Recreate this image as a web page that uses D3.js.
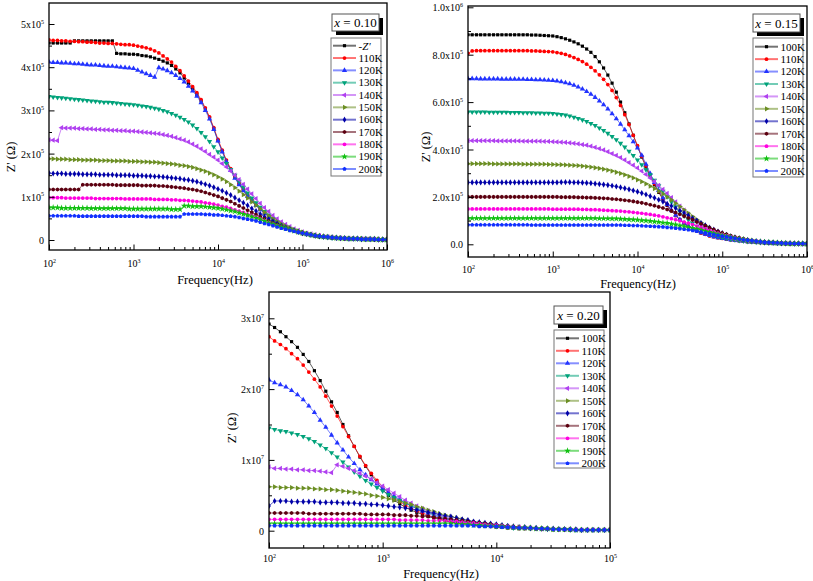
<!DOCTYPE html>
<html><head><meta charset="utf-8">
<script src="https://cdn.jsdelivr.net/npm/d3@7/dist/d3.min.js"></script>
<style>
body{margin:0;background:#fff}
svg{display:block}
text{font-family:"Liberation Serif","Times New Roman","DejaVu Serif",serif;fill:#000}
</style>
</head><body>
<svg id="c" width="813" height="581" font-family="Liberation Serif, Times New Roman, DejaVu Serif, serif"></svg>
<script>
// ---------- DATA ----------
const freqs=[100,112,126,141,158,178,200,224,251,282,316,355,398,447,501,562,631,708,794,891,
1000,1122,1259,1413,1585,1778,1995,2239,2512,2818,3162,3548,3981,4467,5012,5623,6310,7079,7943,8913,
10000,11220,12589,14125,15849,17783,19953,22387,25119,28184,31623,35481,39811,44668,50119,56234,63096,70795,79433,89125,
100000,112202,125893,141254,158489,177828,199526,223872,251189,281838,316228,354813,398107,446684,501187,562341,630957,707946,794328,891251,1000000];

const tempNames=["100K","110K","120K","130K","140K","150K","160K","170K","180K","190K","200K"];
const legendNames010=["-Z'","110K","120K","130K","140K","150K","160K","170K","180K","190K","200K"];
const colors=["#000000","#ff0000","#2233ff","#00a27a","#b040f0","#6b8e23","#0000a8","#5c0010","#ff00e0","#10c010","#1030ff"];

// x = 0.10, Z' in units of 1e3 ohm
const z010=[
[456,456,456,456,456,456,461,461,461,461,461,461,461,461,461,461,432,431,431,430,
 430,429,427,426,424,421,418,414,410,404,396,387,375,363,350,337,322,304,283,258,
 230,206,183,163,145,129,115,102,91,80,71,62,54,47,41,35,30,26,22,18,
 15,13,11,9,8,7,6,5,4,4,3,3,3,2,2,2,2,1,1,1,1],
[463,462,462,461,461,460,460,459,459,458,458,457,456,456,455,455,454,453,452,452,
 451,449,447,445,442,438,433,426,419,412,402,392,380,368,355,341,325,306,285,260,
 233,208,185,165,147,131,117,104,93,82,72,63,55,48,42,36,31,26,22,18,
 15,13,11,9,8,7,6,5,4,4,3,3,3,2,2,2,2,1,1,1,1],
[412,411,411,410,410,409,408,408,407,406,405,405,404,403,402,402,401,400,399,398,
 397,393,389,385,381,377,399,396,392,387,381,374,366,356,345,333,318,300,280,256,
 229,204,181,161,143,128,114,101,90,80,70,62,54,47,41,35,30,26,22,19,
 16,13,11,10,8,7,6,5,5,4,4,3,3,3,2,2,2,2,1,1,1],
[332,331,330,329,328,327,326,325,324,323,322,321,320,319,319,318,317,316,315,314,
 313,312,310,309,307,305,303,300,297,293,289,284,279,273,266,258,249,239,228,216,
 204,190,177,163,150,136,122,109,97,86,76,66,58,50,43,37,32,27,23,19,
 16,14,12,10,8,7,6,5,5,4,4,3,3,3,2,2,2,2,1,1,1],
[232,231,230,260,259,259,259,258,258,257,257,256,256,255,255,254,254,253,253,252,
 252,251,250,249,248,247,246,244,242,240,237,234,231,227,222,217,211,205,198,192,
 185,177,169,160,150,140,129,118,107,96,85,75,66,57,49,42,36,31,26,22,
 19,16,14,12,10,8,7,6,5,5,4,4,3,3,3,2,2,2,2,1,1],
[188,188,187,187,187,186,186,186,185,185,185,185,184,184,184,183,183,183,183,182,
 182,182,181,181,180,180,179,178,177,176,175,173,172,170,168,165,162,159,155,151,
 146,141,135,128,121,113,105,97,88,80,72,64,56,49,43,37,32,28,24,21,
 18,15,13,11,9,8,7,6,5,5,4,4,3,3,3,2,2,2,2,1,1],
[155,154,154,154,153,153,153,153,152,152,152,152,151,151,151,151,150,150,150,150,
 149,149,149,148,148,147,147,146,145,144,143,142,140,139,137,135,132,129,126,122,
 118,114,109,104,98,92,86,80,73,67,60,54,48,43,38,33,29,25,22,19,
 16,14,12,10,9,8,7,6,5,4,4,3,3,3,2,2,2,2,1,1,1],
[117,117,117,117,117,117,117,117,128,128,128,128,128,128,128,128,127,127,127,127,
 127,127,126,126,126,126,125,125,124,123,122,121,120,118,117,115,113,110,107,104,
 101,97,93,89,84,79,74,69,64,59,54,49,44,39,35,31,27,24,21,18,
 16,14,12,10,9,8,7,6,5,4,4,3,3,3,2,2,2,2,1,1,1],
[98,98,98,98,97,97,97,97,97,97,97,96,96,96,96,96,96,96,95,95,
 95,95,95,95,95,94,94,94,94,93,93,92,92,91,90,89,88,86,85,83,
 81,78,76,73,70,67,64,60,57,53,49,45,41,37,33,30,27,24,21,18,
 16,14,12,10,9,8,7,6,5,4,4,3,3,3,2,2,2,2,1,1,1],
[75,75,75,74,74,74,74,74,74,74,73,73,73,73,73,73,73,73,73,72,
 72,72,72,72,72,72,72,72,72,71,71,71,79,79,78,78,78,77,76,75,
 74,72,70,68,66,63,60,57,54,51,47,44,40,37,33,30,27,24,21,18,
 16,14,12,10,9,8,7,6,5,4,4,3,3,3,2,2,2,2,1,1,1],
[56,56,56,56,56,56,56,55,55,55,55,55,55,55,55,55,55,55,55,55,
 55,55,55,54,54,54,54,54,54,54,54,54,60,60,60,60,60,59,59,58,
 58,57,56,55,54,52,50,48,46,44,41,38,36,33,30,27,25,22,20,18,
 16,14,12,10,9,8,7,6,5,4,4,3,3,3,2,2,2,2,1,1,1]
];

// x = 0.15, Z' in units of 1e3 ohm
const z015=[
[884,884,884,884,884,884,884,884,884,884,884,884,884,884,884,883,883,882,881,880,
 879,876,872,867,861,854,846,836,824,810,792,770,744,714,680,642,600,555,508,460,
 413,368,326,287,251,219,190,164,141,121,104,89,76,65,56,48,42,36,32,28,
 25,22,19,17,15,13,11,10,9,8,7,6,5,5,4,4,3,3,3,2,2],
[806,816,817,817,817,817,817,817,817,817,817,817,817,817,817,816,816,815,814,813,
 812,809,806,801,795,788,780,771,760,747,732,715,696,674,649,619,586,547,505,460,
 416,372,331,292,256,223,193,167,143,122,104,89,76,65,56,48,42,36,32,28,
 25,22,19,17,15,13,11,10,9,8,7,6,5,5,4,4,3,3,3,2,2],
[699,699,699,698,698,698,698,698,697,697,697,697,696,696,695,695,694,694,693,692,
 691,689,686,682,677,671,664,655,645,633,620,605,589,571,551,530,507,483,458,433,
 406,376,338,299,261,227,196,168,144,123,105,90,77,66,57,49,42,37,32,28,
 25,22,19,17,15,13,11,10,9,8,7,6,5,5,4,4,3,3,3,2,2],
[558,558,558,558,558,557,557,557,557,557,556,556,556,555,555,555,554,554,553,553,
 552,550,548,545,541,536,531,525,518,510,501,491,480,468,455,441,426,410,393,375,
 356,336,315,293,270,247,224,201,179,158,138,120,104,89,76,65,56,48,41,35,
 30,26,22,19,16,14,12,11,9,8,7,6,6,5,4,4,3,3,3,2,2],
[437,437,437,437,437,437,437,436,436,436,436,436,436,435,435,435,435,435,434,434,
 433,432,431,430,428,426,424,421,418,414,409,404,398,391,383,375,366,356,345,334,
 322,309,295,280,265,249,232,215,197,179,161,144,127,111,97,84,72,62,53,45,
 38,32,27,23,20,17,14,12,10,9,8,7,6,5,4,4,3,3,3,2,2],
[340,340,340,340,340,340,339,339,339,339,339,339,339,338,338,338,338,338,338,337,
 337,336,336,335,334,333,332,330,328,326,323,320,317,313,309,304,299,293,287,280,
 272,264,255,245,235,224,212,200,187,173,159,145,131,117,104,91,79,68,58,49,
 42,35,30,25,21,18,15,13,11,9,8,7,6,5,4,4,3,3,3,2,2],
[261,261,261,261,261,261,261,261,261,261,261,261,261,261,261,261,261,261,261,261,
 261,261,262,262,262,261,261,260,259,258,256,254,252,250,247,244,240,236,232,227,
 222,216,210,203,196,188,180,171,162,152,142,132,121,110,100,90,80,71,62,54,
 47,40,34,29,25,21,18,15,13,11,9,8,7,6,5,4,4,3,3,3,2],
[200,200,200,200,200,200,200,200,200,200,200,200,200,200,200,200,200,200,200,200,
 200,200,199,199,199,199,198,198,197,197,196,195,194,193,191,190,188,186,184,181,
 178,175,171,167,163,158,153,147,141,134,127,119,111,103,94,86,78,70,62,55,
 48,42,36,31,27,23,19,16,14,12,10,8,7,6,5,4,4,3,3,3,2],
[149,149,149,149,149,149,149,149,149,149,149,149,149,149,149,149,149,149,149,149,
 148,148,148,148,148,148,148,147,147,146,146,145,144,143,142,141,140,138,137,135,
 133,131,128,126,123,120,116,112,108,104,99,94,89,83,77,71,65,59,53,47,
 42,37,32,28,24,21,18,15,13,11,9,8,7,6,5,4,4,3,3,3,2],
[110,110,110,110,110,110,110,110,110,110,110,110,110,110,110,110,110,110,110,110,
 110,110,110,110,110,110,110,110,110,110,110,109,109,109,108,108,107,106,105,104,
 103,101,100,98,96,94,91,89,86,83,79,76,72,68,64,60,55,51,46,42,
 38,34,30,26,23,20,17,15,13,11,9,8,7,6,5,4,4,3,3,3,2],
[82,82,82,82,82,82,82,82,82,82,82,82,82,82,82,81,81,81,81,81,
 81,81,81,81,81,81,81,81,81,81,81,81,81,81,81,81,81,80,80,79,
 79,78,77,76,75,74,73,71,70,68,66,63,61,58,55,52,48,45,41,38,
 34,31,28,25,22,19,17,15,13,11,9,8,7,6,5,4,4,3,3,3,2]
];

// x = 0.20, Z' in units of 1e5 ohm (100 Hz .. 100 kHz)
const z020=[
[292,287,281,274,267,259,249,239,226,212,197,182,167,150,134,119,104,91,79,68,
 58,50,43,38,33,29,26,23,20,18,16,14,12,11,10,9,8,7,6,6,
 5,5,4,4,3,3,3,3,2,2,2,2,2,1,1,1,1,1,1,1,1],
[274,268,263,257,250,243,234,224,214,203,190,176,162,147,133,119,105,92,81,71,
 62,54,47,41,36,32,28,25,22,19,17,15,13,12,10,9,8,7,7,6,
 5,5,4,4,3,3,3,3,2,2,2,2,2,1,1,1,1,1,1,1,1],
[213,209,206,203,198,192,185,176,167,156,146,135,124,114,104,95,86,79,72,66,
 60,54,49,44,39,35,31,28,25,22,19,17,15,13,12,10,9,8,7,7,
 6,5,5,4,4,3,3,3,2,2,2,2,2,1,1,1,1,1,1,1,1],
[145,143,141,140,138,136,133,130,126,121,116,110,104,97,90,83,77,71,66,61,
 56,51,47,43,39,35,32,29,26,23,21,18,16,14,13,11,10,9,8,7,
 6,6,5,4,4,4,3,3,3,2,2,2,2,1,1,1,1,1,1,1,1],
[90,88,88,87,87,86,86,85,85,84,83,82,93,91,88,85,81,77,73,68,
 63,58,53,48,43,39,35,31,28,25,22,20,17,15,14,12,11,10,9,8,
 7,6,6,5,5,4,4,3,3,3,2,2,2,2,1,1,1,1,1,1,1],
[62,62,61,61,61,60,60,60,59,59,58,58,57,56,55,54,53,52,50,49,
 47,45,43,41,39,37,34,32,29,27,24,22,20,18,16,14,12,11,10,9,
 8,7,6,5,5,4,4,3,3,3,2,2,2,2,1,1,1,1,1,1,1],
[35,42,42,42,41,41,41,41,41,40,40,40,40,39,39,39,38,38,37,37,
 36,35,34,33,32,31,29,28,26,25,23,21,20,18,16,15,13,12,11,10,
 9,8,7,6,5,5,4,4,3,3,3,2,2,2,2,1,1,1,1,1,1],
[25,25,25,25,25,25,25,24,24,24,24,24,24,24,24,24,24,23,23,23,
 23,23,22,22,22,21,21,20,20,19,18,17,16,15,14,13,12,11,10,9,
 8,7,6,6,5,4,4,3,3,3,2,2,2,2,1,1,1,1,1,1,1],
[16,16,16,16,16,16,16,16,16,16,16,16,16,16,16,16,16,16,16,16,
 16,16,16,15,15,15,15,15,14,14,14,14,13,13,12,11,11,10,9,8,
 8,7,6,5,5,4,4,3,3,3,2,2,2,2,1,1,1,1,1,1,1],
[10,10,10,10,10,10,10,10,10,10,10,10,10,10,10,10,10,10,10,10,
 10,10,10,10,10,10,10,10,10,10,10,10,10,9,9,9,8,8,7,7,
 6,6,5,5,4,4,4,3,3,3,2,2,2,2,1,1,1,1,1,1,1],
[7,7,7,7,7,7,7,7,7,7,7,7,7,7,7,7,7,7,7,7,
 7,7,7,7,7,7,7,7,7,7,7,7,7,7,7,7,7,6,6,6,
 6,5,5,5,4,4,4,3,3,3,2,2,2,2,1,1,1,1,1,1,1]
];

const xTicks6=[1e2,1e3,1e4,1e5,1e6];
const xTicks5=[1e2,1e3,1e4,1e5];
const xExp6=["2","3","4","5","6"];
const xExp5=["2","3","4","5"];
const yTicks010=[0,100,200,300,400,500];
const yLab010=[["0",""],["1x10","5"],["2x10","5"],["3x10","5"],["4x10","5"],["5x10","5"]];
const yTicks015=[0,200,400,600,800,1000];
const yLab015=[["0.0",""],["2.0x10","5"],["4.0x10","5"],["6.0x10","5"],["8.0x10","5"],["1.0x10","6"]];
const yTicks020=[0,100,200,300];
const yLab020=[["0",""],["1x10","7"],["2x10","7"],["3x10","7"]];

// ---------- DRAW ----------
const svg=d3.select("#c");
const FONT="Liberation Serif, Times New Roman, DejaVu Serif, serif";
const symHex={draw(ctx,size){const r=Math.sqrt(size/2.598);for(let i=0;i<6;i++){const a=Math.PI/3*i+Math.PI/6;const px=r*Math.cos(a),py=r*Math.sin(a);if(i)ctx.lineTo(px,py);else ctx.moveTo(px,py);}ctx.closePath();}};
const symPent={draw(ctx,size){const r=Math.sqrt(size/2.378);for(let i=0;i<5;i++){const a=-Math.PI/2+2*Math.PI/5*i;const px=r*Math.cos(a),py=r*Math.sin(a);if(i)ctx.lineTo(px,py);else ctx.moveTo(px,py);}ctx.closePath();}};
const markers=[[d3.symbolSquare,10,0],[d3.symbolCircle,11,0],[d3.symbolTriangle,12,0],[d3.symbolTriangle,12,180],
 [d3.symbolTriangle,12,-90],[d3.symbolTriangle,12,90],[d3.symbolDiamond,11,0],[symHex,11,0],[d3.symbolCircle,11,0],
 [d3.symbolStar,14,0],[symPent,11,0]];

const panels=[
 {id:"a",data:z010,n:81,xMax:1e6,left:49,right:387,top:3,bottom:250,yDom:[0,500],yRange:[240,24],
  xTicks:xTicks6,xExp:xExp6,yTicks:yTicks010,yLab:yLab010,yMinorStep:50,
  xLabY:267,xTitle:[215,284],yTitle:[15,157],tag:"0.10",names:legendNames010,
  box:[332,14,47,17],leg:[331,38,50,138],legY0:45.7,legDy:12.33,lx:[333,356],tx:358.5},
 {id:"b",data:z015,n:81,xMax:1e6,left:468,right:807,top:6,bottom:257,yDom:[0,1000],yRange:[244.3,7.3],
  xTicks:xTicks6,xExp:xExp6,yTicks:yTicks015,yLab:yLab015,yMinorStep:100,
  xLabY:273,xTitle:[638,288],yTitle:[430,147],tag:"0.15",names:tempNames,
  box:[753,14,47,18],leg:[753,38,50,139],legY0:46.7,legDy:12.43,lx:[755,778],tx:780.5},
 {id:"c",data:z020,n:61,xMax:1e5,left:269,right:610,top:292,bottom:548,yDom:[0,300],yRange:[530.7,318.3],
  xTicks:xTicks5,xExp:xExp5,yTicks:yTicks020,yLab:yLab020,yMinorStep:50,
  xLabY:562,xTitle:[441,578],yTitle:[236,428],tag:"0.20",names:tempNames,
  box:[554,306,49,18],leg:[554,330,50,138],legY0:338.3,legDy:12.5,lx:[556,579],tx:581.5}
];

function drawPanel(P){
  const g=svg.append("g").attr("font-family",FONT);
  const x=d3.scaleLog().domain([100,P.xMax]).range([P.left,P.right]);
  const y=d3.scaleLinear().domain(P.yDom).range(P.yRange);
  const cid="clip"+P.id;
  svg.append("defs").append("clipPath").attr("id",cid).append("rect")
    .attr("x",P.left).attr("y",P.top).attr("width",P.right-P.left).attr("height",P.bottom-P.top);
  const plot=g.append("g").attr("clip-path",`url(#${cid})`);
  const line=d3.line().x((v,k)=>x(freqs[k])).y(v=>y(v));
  P.data.forEach((s,i)=>{
    plot.append("path").attr("d",line(s)).attr("fill","none").attr("stroke",colors[i])
      .attr("stroke-width",0.9).attr("stroke-opacity",0.7);
    const [t,sz,rot]=markers[i];
    const sym=d3.symbol().type(t).size(sz)();
    plot.append("g").selectAll("path").data(s).join("path").attr("d",sym)
      .attr("transform",(v,k)=>`translate(${x(freqs[k])},${y(v)}) rotate(${rot})`)
      .attr("fill",colors[i]);
  });
  // x axis (ticks inward)
  const minor=[];
  const maxE=Math.round(Math.log10(P.xMax));
  for(let e=2;e<maxE;e++)for(let m=2;m<=9;m++)minor.push(m*Math.pow(10,e));
  const gx=g.append("g").attr("transform",`translate(0,${P.bottom})`);
  gx.call(d3.axisBottom(x).tickValues(minor).tickSize(-3).tickFormat(""));
  const gx2=g.append("g").attr("transform",`translate(0,${P.bottom})`);
  gx2.call(d3.axisBottom(x).tickValues(P.xTicks).tickSize(-5.5).tickFormat(""));
  [gx,gx2].forEach(a=>{a.attr("font-family",FONT);a.select(".domain").remove();a.selectAll("line").attr("stroke","#000").attr("stroke-width",1);});
  gx2.selectAll(".tick text").each(function(d,i){
    const t=d3.select(this).attr("y",P.xLabY-P.bottom).attr("dy",null).attr("font-size",10)
      .attr("fill","#000").attr("text-anchor","middle");
    t.text(null);
    t.append("tspan").text("10");
    t.append("tspan").attr("dy",-4.5).attr("font-size",6).text(P.xExp[i]);
  });
  // y axis
  const yMin=[];
  for(let v=P.yMinorStep;v<P.yDom[1];v+=2*P.yMinorStep)yMin.push(v);
  const gy=g.append("g").attr("transform",`translate(${P.left},0)`);
  gy.call(d3.axisLeft(y).tickValues(yMin).tickSize(-3).tickFormat(""));
  const gy2=g.append("g").attr("transform",`translate(${P.left},0)`);
  gy2.call(d3.axisLeft(y).tickValues(P.yTicks).tickSize(-5.5).tickFormat(""));
  [gy,gy2].forEach(a=>{a.attr("font-family",FONT);a.select(".domain").remove();a.selectAll("line").attr("stroke","#000").attr("stroke-width",1);});
  gy2.selectAll(".tick text").each(function(d,i){
    const t=d3.select(this).attr("x",-5).attr("dy","0.35em").attr("font-size",10)
      .attr("fill","#000").attr("text-anchor","end");
    t.text(null);
    t.append("tspan").text(P.yLab[i][0]);
    if(P.yLab[i][1])t.append("tspan").attr("dy",-4.5).attr("font-size",6).text(P.yLab[i][1]);
  });
  // frame
  g.append("rect").attr("x",P.left).attr("y",P.top).attr("width",P.right-P.left).attr("height",P.bottom-P.top)
    .attr("fill","none").attr("stroke","#000").attr("stroke-width",1.3);
  // titles
  g.append("text").attr("x",P.xTitle[0]).attr("y",P.xTitle[1]).attr("text-anchor","middle")
    .attr("font-size",12.5).text("Frequency(Hz)");
  g.append("text").attr("transform",`translate(${P.yTitle[0]},${P.yTitle[1]}) rotate(-90)`)
    .attr("text-anchor","middle").attr("font-size",12.5).text("Z' (\u03A9)");
  // tag box with shadow
  const [bx,by,bw,bh]=P.box;
  g.append("rect").attr("x",bx+4).attr("y",by+4).attr("width",bw).attr("height",bh).attr("fill","#000");
  g.append("rect").attr("x",bx).attr("y",by).attr("width",bw).attr("height",bh).attr("fill","#fff")
    .attr("stroke","#555").attr("stroke-width",1);
  const tt=g.append("text").attr("x",bx+bw/2).attr("y",by+bh/2+4.5).attr("text-anchor","middle").attr("font-size",13);
  tt.append("tspan").attr("font-style","italic").text("x");
  tt.append("tspan").text(" = "+P.tag);
  // legend
  const [lx,ly,lw,lh]=P.leg;
  g.append("rect").attr("x",lx).attr("y",ly).attr("width",lw).attr("height",lh).attr("fill","#fff")
    .attr("stroke","#777").attr("stroke-width",1);
  P.names.forEach((nm,i)=>{
    const yy=P.legY0+i*P.legDy;
    g.append("line").attr("x1",P.lx[0]).attr("x2",P.lx[1]).attr("y1",yy).attr("y2",yy)
      .attr("stroke",colors[i]).attr("stroke-width",2).attr("stroke-opacity",0.55);
    const [t,sz,rot]=markers[i];
    g.append("path").attr("d",d3.symbol().type(t).size(sz)())
      .attr("transform",`translate(${(P.lx[0]+P.lx[1])/2},${yy}) rotate(${rot})`).attr("fill",colors[i]);
    const tx=g.append("text").attr("x",P.tx).attr("y",yy+3.8).attr("font-size",11);
    if(i===0&&nm==="-Z'"){tx.append("tspan").text("-");tx.append("tspan").attr("font-style","italic").text("Z'");}
    else tx.text(nm);
  });
}
panels.forEach(drawPanel);
</script>
</body></html>
